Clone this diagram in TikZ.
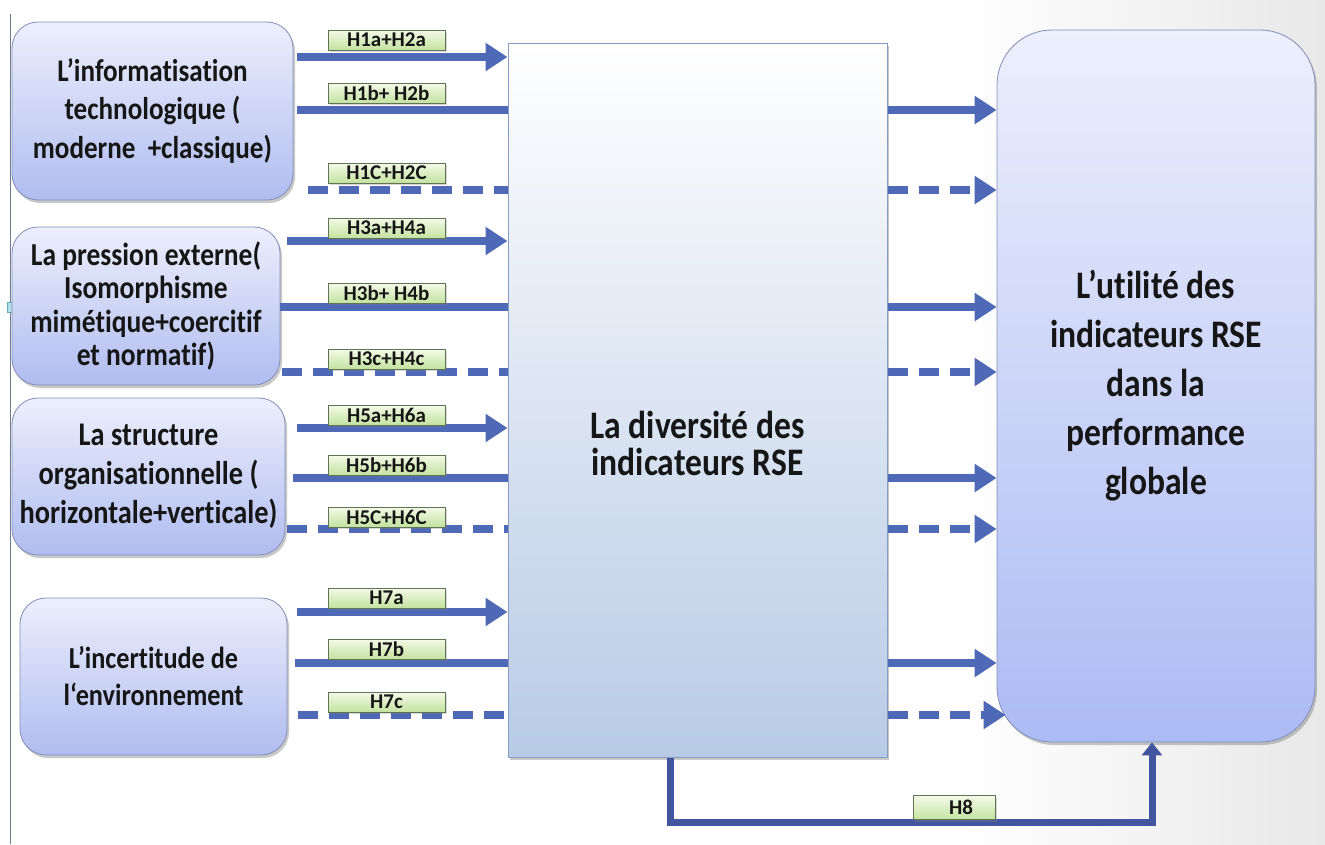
\documentclass[tikz,border=0pt]{standalone}
\usepackage{fontspec}
\setmainfont{Carlito}[Ligatures=NoCommon]
\newfontfamily\narrowbold{Carlito}[FakeStretch=0.86,Ligatures=NoCommon]
\usetikzlibrary{arrows.meta,shadows,calc}

\definecolor{arrowblue}{RGB}{78,106,182}
\definecolor{hbblue}{RGB}{66,86,160}
\definecolor{lboxtop}{RGB}{236,239,252}
\definecolor{lboxbot}{RGB}{176,188,240}
\definecolor{lboxline}{RGB}{130,142,185}
\definecolor{midtop}{RGB}{255,255,255}
\definecolor{midbot}{RGB}{184,203,230}
\definecolor{midline}{RGB}{135,155,195}
\definecolor{rtop}{RGB}{236,239,252}
\definecolor{rbot}{RGB}{172,187,244}
\definecolor{tagtop}{RGB}{244,250,232}
\definecolor{tagbot}{RGB}{196,226,160}
\definecolor{tagline}{RGB}{95,115,85}
\definecolor{edgeline}{RGB}{110,122,145}
\definecolor{bggray}{RGB}{232,232,232}
\definecolor{inktext}{RGB}{22,22,22}

\begin{document}
\begin{tikzpicture}[x=1pt,y=-1pt,
  softshadow/.style={drop shadow={shadow xshift=2pt,shadow yshift=-3pt,opacity=0.3,fill=black!70}},
  lbox/.style={draw=lboxline,line width=0.8pt,rounded corners=26pt,
    top color=lboxtop,bottom color=lboxbot,softshadow,inner sep=0pt,
    align=center,text=inktext},
  midbox/.style={draw=midline,line width=1pt,top color=midtop,bottom color=midbot,
    softshadow,inner sep=0pt},
  rightbox/.style={draw=lboxline,line width=0.8pt,rounded corners=55pt,
    top color=rtop,bottom color=rbot,softshadow,inner sep=0pt},
  bigtext/.style={align=center,text=inktext,inner sep=0pt},
  tag/.style={draw=tagline,line width=0.6pt,top color=tagtop,bottom color=tagbot,
    minimum width=117pt,minimum height=20pt,inner sep=0pt,text=inktext,
    font=\fontsize{21}{21}\selectfont\bfseries,
    drop shadow={shadow xshift=1.5pt,shadow yshift=-2pt,opacity=0.3}},
  conn/.style={draw=arrowblue,line width=8pt},
  arr/.style={conn,-{Triangle[width=27pt,length=22pt]}},
  dconn/.style={conn,dash pattern=on 20pt off 11pt},
  darr/.style={dconn,-{Triangle[width=27pt,length=22pt]}},
  hconn/.style={draw=hbblue,line width=7pt,line join=miter,
    -{Triangle[width=20pt,length=13pt]}}
]
\useasboundingbox (0,0) rectangle (1325,844);

% page background with a faint grey fade on the right
\fill[white] (0,0) rectangle (1325,844);
\shade[left color=white,right color=bggray] (960,0) rectangle (1325,844);

% thin rule along the left edge and its small handle
\draw[edgeline,line width=1.5pt] (10.5,14) -- (10.5,844);
\draw[draw={rgb,255:red,100;green,170;blue,190},fill={rgb,255:red,175;green,222;blue,232},line width=0.5pt]
  (7,302) rectangle (14,312);

% left-hand factor boxes
\node[lbox,minimum width=281pt,minimum height=178pt,
  font=\narrowbold\fontsize{31.5}{38.5}\selectfont\bfseries] (b1) at (152.5,111)
  {L’informatisation\\technologique (\\moderne\ \ +classique)};
\node[lbox,minimum width=268pt,minimum height=158pt,
  font=\narrowbold\fontsize{32}{33.5}\selectfont\bfseries] (b2) at (146,306)
  {La pression externe(\\Isomorphisme\\mimétique+coercitif\\et normatif)};
\node[lbox,minimum width=273pt,minimum height=157pt,
  font=\narrowbold\fontsize{33}{39}\selectfont\bfseries] (b3) at (148.5,476.5)
  {La structure\\organisationnelle (\\horizontale+verticale)};
\node[lbox,minimum width=267pt,minimum height=157pt,
  font=\narrowbold\fontsize{30.5}{37}\selectfont\bfseries] (b4) at (153.5,676.5)
  {L’incertitude de\\l‘environnement};

% central box and the target box
\node[midbox,minimum width=379pt,minimum height=714pt] (mid) at (697.5,400) {};
\node[bigtext,font=\narrowbold\fontsize{39}{37}\selectfont\bfseries] (midtext) at (697.5,443)
  {La diversité des\\indicateurs RSE};
\node[rightbox,minimum width=318pt,minimum height=712pt] (rbox) at (1156,386) {};
\node[bigtext,font=\narrowbold\fontsize{39}{49}\selectfont\bfseries] (rtext) at (1156,386)
  {L’utilité des\\indicateurs RSE\\dans la\\performance\\globale};

% row levels
\coordinate (r1a) at (0,57);  \coordinate (r1b) at (0,110); \coordinate (r1c) at (0,190);
\coordinate (r2a) at (0,241); \coordinate (r2b) at (0,307); \coordinate (r2c) at (0,372);
\coordinate (r3a) at (0,428); \coordinate (r3b) at (0,478); \coordinate (r3c) at (0,529);
\coordinate (r4a) at (0,612); \coordinate (r4b) at (0,663); \coordinate (r4c) at (0,715);

% factor -> diversity
\draw[arr]   ([xshift=4pt]b1.east |- r1a)  -- (mid.west |- r1a);
\draw[conn]  ([xshift=4pt]b1.east |- r1b)  -- (mid.west |- r1b);
\draw[dconn] ([xshift=15pt]b1.east |- r1c) -- (mid.west |- r1c);

\draw[arr]   ([xshift=7pt]b2.east |- r2a)  -- (mid.west |- r2a);
\draw[conn]  (b2.east |- r2b)              -- (mid.west |- r2b);
\draw[dconn] ([xshift=2pt]b2.east |- r2c)  -- (mid.west |- r2c);

\draw[arr]   ([xshift=12pt]b3.east |- r3a) -- (mid.west |- r3a);
\draw[conn]  ([xshift=8pt]b3.east |- r3b)  -- (mid.west |- r3b);
\draw[dconn] ([xshift=2pt]b3.east |- r3c)  -- (mid.west |- r3c);

\draw[arr]   ([xshift=10pt]b4.east |- r4a) -- (mid.west |- r4a);
\draw[conn]  ([xshift=8pt]b4.east |- r4b)  -- (mid.west |- r4b);
\draw[dconn] ([xshift=11pt]b4.east |- r4c) -- (mid.west |- r4c);

% diversity -> utility
\draw[arr]  (mid.east |- r1b) -- (rbox.west |- r1b);
\draw[darr] (mid.east |- r1c) -- (rbox.west |- r1c);
\draw[arr]  (mid.east |- r2b) -- (rbox.west |- r2b);
\draw[darr] (mid.east |- r2c) -- (rbox.west |- r2c);
\draw[arr]  (mid.east |- r3b) -- (rbox.west |- r3b);
\draw[darr] (mid.east |- r3c) -- (rbox.west |- r3c);
\draw[arr]  (mid.east |- r4b) -- (rbox.west |- r4b);
\draw[darr] (mid.east |- r4c) -- ([xshift=9pt]rbox.west |- r4c);

% direct link H8
\coordinate (h8a) at (670,822);
\coordinate (h8b) at (1152,822);
\draw[hconn] (mid.south -| h8a) -- (h8a) -- (h8b) -- (rbox.south -| h8b);

% hypothesis tags
\node[tag] (t1a) at (386.5,40)  {H1a+H2a};
\node[tag] (t1b) at (386.5,93)  {H1b+ H2b};
\node[tag] (t1c) at (386.5,173) {H1C+H2C};
\node[tag] (t2a) at (386.5,228) {H3a+H4a};
\node[tag] (t2b) at (386.5,293) {H3b+ H4b};
\node[tag] (t2c) at (386.5,359) {H3c+H4c};
\node[tag] (t3a) at (386.5,415) {H5a+H6a};
\node[tag] (t3b) at (386.5,465) {H5b+H6b};
\node[tag] (t3c) at (386.5,517) {H5C+H6C};
\node[tag] (t4a) at (386.5,598) {H7a};
\node[tag] (t4b) at (386.5,649) {H7b};
\node[tag] (t4c) at (386.5,702) {H7c};
\node[tag,minimum width=82pt,minimum height=24pt] (t8) at (954,807.5) {\hspace*{14pt}H8};
\end{tikzpicture}
\end{document}
